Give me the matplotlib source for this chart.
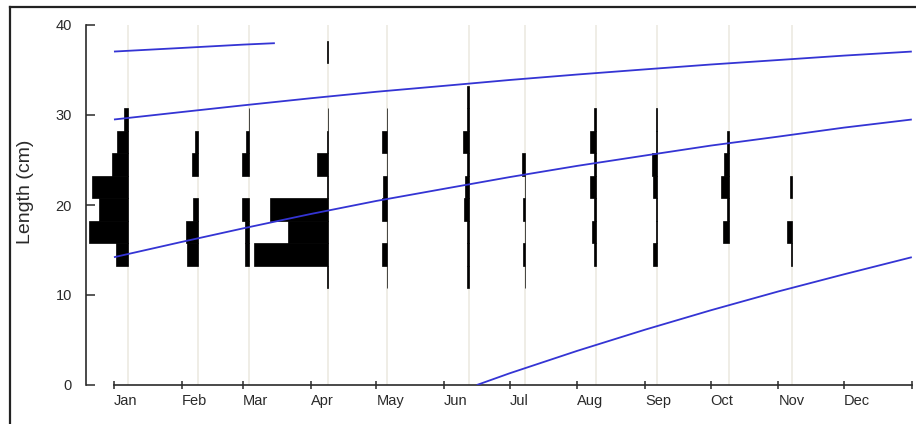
import numpy as np
import matplotlib
matplotlib.use("Agg")
import matplotlib.pyplot as plt
from matplotlib.lines import Line2D

plt.rcParams['font.family'] = ['Liberation Sans', 'DejaVu Sans']

# month starts (day of year) and labels
month_starts = [0, 31, 59, 90, 120, 151, 181, 212, 243, 273, 304, 334, 365]
month_labels = ["Jan", "Feb", "Mar", "Apr", "May", "Jun", "Jul", "Aug",
                "Sep", "Oct", "Nov", "Dec", ""]

# sampling dates (day of year)
sample_days = [6.3, 38.3, 61.9, 98.0, 125.1, 162.4, 188.1, 220.5, 248.3, 281.3, 310.4]

# length classes (cm): mids, width 2.5
class_mids = [12, 14.5, 17, 19.5, 22, 24.5, 27, 29.5, 32, 34.5, 37]

# frequencies per sample, one value per length class
freq_jan = [0, 12, 39, 29, 36, 16, 11, 4, 0, 0, 0]
freq_feb = [0, 11, 12, 5, 0, 6, 3, 0, 0, 0, 0]
freq_mar = [0, 4, 4, 7, 0, 7, 3, 0.5, 0, 0, 0]
freq_apr = [1, 74, 40, 58, 1, 11, 1, 0.5, 0, 0, 1]
freq_may = [0.8, 5, 0.8, 5, 4.5, 0.8, 5, 0.5, 0, 0, 0]
freq_jun = [2, 2, 2, 5, 4, 1.5, 6, 1.5, 1.5, 0, 0]
freq_jul = [0.5, 2.5, 0.5, 2.5, 0.5, 3.5, 0, 0, 0, 0, 0]
freq_aug = [0, 1.5, 4, 1.5, 6, 1.5, 6, 1.5, 0, 0, 0]
freq_sep = [0, 4, 0.5, 0.5, 3.5, 5, 0.5, 0.5, 0, 0, 0]
freq_oct = [0, 0, 6, 1.5, 7.5, 5, 1.5, 0, 0, 0, 0]
freq_nov = [0, 1, 5, 0, 2.5, 0, 0, 0, 0, 0, 0]
freqs = [freq_jan, freq_feb, freq_mar, freq_apr, freq_may, freq_jun,
         freq_jul, freq_aug, freq_sep, freq_oct, freq_nov]

# growth curves (day of year, length cm)
curve1_days = [166, 181, 212, 243, 273, 304, 334, 365]
curve1_len = [0.0, 1.3, 3.8, 6.15, 8.3, 10.4, 12.3, 14.2]
curve2_days = [0, 31, 59, 90, 120, 151, 181, 212, 243, 273, 304, 334, 365]
curve2_len = [14.2, 15.9, 17.4, 19.0, 20.45, 21.8, 23.1, 24.35, 25.5, 26.6, 27.6, 28.6, 29.5]
curve3_days = [0, 31, 59, 90, 120, 151, 181, 212, 243, 273, 304, 334, 365]
curve3_len = [29.5, 30.33, 31.07, 31.86, 32.58, 33.24, 33.89, 34.5, 35.07, 35.61, 36.11, 36.6, 37.05]
curve4_days = [0, 31, 59, 73.6]
curve4_len = [37.05, 37.45, 37.82, 37.98]

W, H = 916, 424
fig = plt.figure(figsize=(W / 100, H / 100), dpi=100)
ax = fig.add_axes([86 / W, 1 - 385 / H, 828 / W, 360 / H])
ax.set_xlim(-12.8, 366.0)
ax.set_ylim(0, 40)

# sample lines
for d in sample_days:
    ax.axvline(d, color="#ebe8df", lw=1.1, zorder=1)

# histograms, bars grow to the left of the sampling date
bar_scale = 34.0 / 74
for d, f in zip(sample_days, freqs):
    f = np.array(f, dtype=float)
    mids = np.array(class_mids, dtype=float)
    keep = f > 0
    w = f[keep] * bar_scale
    ax.barh(mids[keep], w, left=d - w, height=2.5, color="black",
            edgecolor="black", linewidth=0.5, zorder=2)

# growth curves
blue = "#3434d4"
for xs, ys in [(curve1_days, curve1_len), (curve2_days, curve2_len),
               (curve3_days, curve3_len), (curve4_days, curve4_len)]:
    ax.plot(xs, ys, color=blue, lw=1.3, zorder=3, solid_capstyle="butt")

# axes styling
for s in ["top", "right"]:
    ax.spines[s].set_visible(False)
ax.spines["bottom"].set_bounds(0, 365)
ax.spines["left"].set_bounds(0, 40)
for s in ["bottom", "left"]:
    ax.spines[s].set_color("#2a2a2a")
    ax.spines[s].set_linewidth(1.2)

ax.set_yticks([0, 10, 20, 30, 40])
ax.tick_params(axis="y", direction="in", length=6.5, width=1.1, pad=10,
               labelsize=10.5, colors="#2a2a2a")
ax.set_xticks(month_starts)
ax.set_xticklabels(month_labels, ha="left")
ax.tick_params(axis="x", direction="inout", length=6, width=1.1, pad=3.5,
               labelsize=10.5, colors="#2a2a2a")

fig.text(26 / W, 1 - 192 / H, "Length (cm)", rotation=90, ha="center",
         va="center", fontsize=14, color="#2a2a2a")

# screenshot frame on left and top
fig.add_artist(Line2D([10 / W, 10 / W], [0, 1 - 7 / H], transform=fig.transFigure,
                      color="#222222", lw=1.6))
fig.add_artist(Line2D([10 / W, 1], [1 - 7 / H, 1 - 7 / H], transform=fig.transFigure,
                      color="#222222", lw=1.6))

fig.savefig("out.png", dpi=100)
